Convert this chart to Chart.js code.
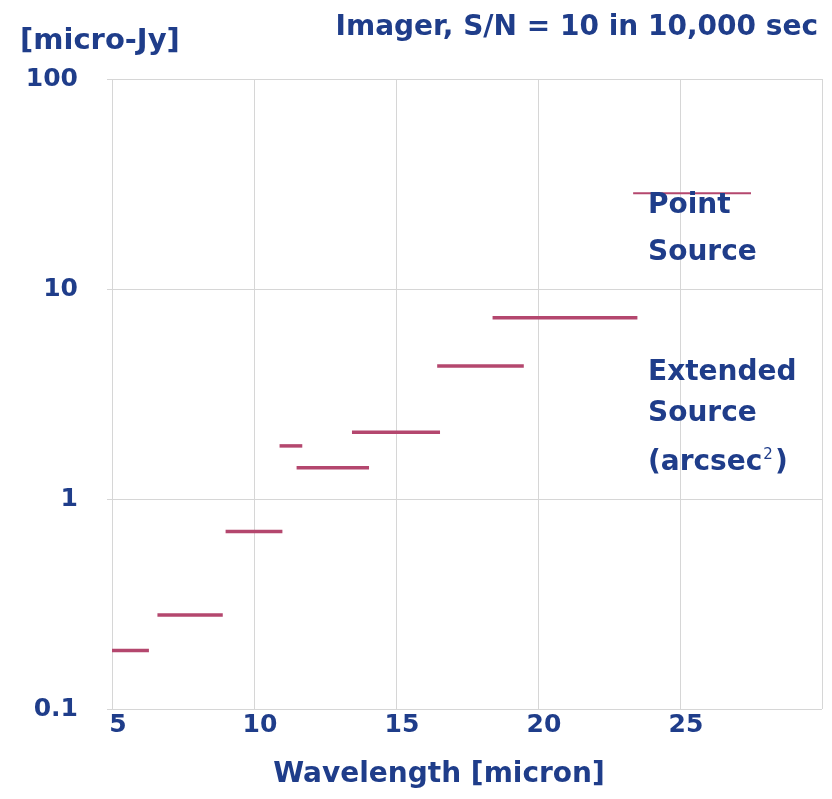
<!DOCTYPE html>
<html>
<head>
<meta charset="utf-8">
<title>Imager sensitivity</title>
<script src="https://cdn.jsdelivr.net/npm/chart.js@4.4.1/dist/chart.umd.min.js"></script>
<style>
  html, body { margin: 0; padding: 0; background: #fff; }
  #wrap { position: relative; width: 832px; height: 799px; }
</style>
</head>
<body>
<div id="wrap"><canvas id="sens"></canvas></div>
<script>
// filter bands: wavelength start / end (micron) and sensitivity (micro-Jy)
const bandStart = [5.0, 6.6, 9.0, 10.9, 11.5, 13.45, 16.45, 18.4];
const bandEnd   = [6.3, 8.9, 11.0, 11.7, 14.05, 16.55, 19.5, 23.5];
const bandFlux  = [0.19, 0.28, 0.70, 1.79, 1.41, 2.08, 4.3, 7.3];

// point source marker line in the legend corner
const pointStart = 23.35;
const pointEnd = 27.5;
const pointFlux = 28.6;

const yTicks = [0.1, 1, 10, 100];
const xTicks = [5, 10, 15, 20, 25];

const navy = '#1f3d8a';
const lineColor = '#b4476e';
const gridColor = '#d6d6d6';
const fontFamily = '"DejaVu Sans", "Liberation Sans", Arial, sans-serif';

const datasets = bandFlux.map((f, i) => ({
  data: [{ x: bandStart[i], y: f }, { x: bandEnd[i], y: f }],
  borderColor: lineColor,
  borderWidth: 3.5,
  pointRadius: 0,
  showLine: true
}));
datasets.push({
  data: [{ x: pointStart, y: pointFlux }, { x: pointEnd, y: pointFlux }],
  borderColor: lineColor,
  borderWidth: 2,
  pointRadius: 0,
  showLine: true
});

// free text: headers, x axis title and labels in the right corner
const textPlugin = {
  id: 'texts',
  afterDraw(chart) {
    const ctx = chart.ctx;
    ctx.save();
    ctx.fillStyle = navy;
    ctx.textBaseline = 'middle';
    ctx.font = 'bold 29px ' + fontFamily;
    ctx.textAlign = 'left';
    ctx.fillText('[micro-Jy]', 20, 41);
    ctx.font = 'bold 28px ' + fontFamily;
    ctx.textAlign = 'right';
    ctx.fillText('Imager, S/N = 10 in 10,000 sec', 818, 28);

    ctx.textAlign = 'center';
    ctx.fillText('Wavelength [micron]', 439, 775);

    ctx.textAlign = 'left';
    const lx = 648;
    ctx.fillText('Point', lx, 206);
    ctx.fillText('Source', lx, 253);
    ctx.fillText('Extended', lx, 373);
    ctx.fillText('Source', lx, 414);
    const w = ctx.measureText('(arcsec').width;
    ctx.fillText('(arcsec', lx, 463);
    ctx.font = '15px ' + fontFamily;
    ctx.fillText('2', lx + w + 1, 455);
    const w2 = ctx.measureText('2').width;
    ctx.font = 'bold 28px ' + fontFamily;
    ctx.fillText(')', lx + w + w2 + 3, 463);
    ctx.restore();
  }
};

new Chart(document.getElementById('sens'), {
  type: 'scatter',
  data: { datasets: datasets },
  plugins: [textPlugin],
  options: {
    responsive: true,
    maintainAspectRatio: false,
    animation: false,
    layout: { padding: { top: 79, right: 10, left: 0, bottom: 0 } },
    plugins: { legend: { display: false }, tooltip: { enabled: false } },
    scales: {
      x: {
        type: 'linear',
        min: 5,
        max: 30,
        afterBuildTicks: axis => { axis.ticks = xTicks.concat([30]).map(v => ({ value: v })); },
        afterFit: axis => { axis.height = 90; },
        grid: { color: gridColor, lineWidth: 1, tickLength: 0, drawTicks: false },
        border: { display: false },
        ticks: {
          color: navy,
          font: { family: fontFamily, size: 25, weight: 'bold' },
          padding: 1,
          labelOffset: 6,
          callback: v => (v === 30 ? '' : v)
        }
      },
      y: {
        type: 'logarithmic',
        min: 0.1,
        max: 100,
        afterBuildTicks: axis => { axis.ticks = yTicks.map(v => ({ value: v })); },
        afterFit: axis => { axis.width = 112; },
        grid: { color: gridColor, lineWidth: 1, tickLength: 5 },
        border: { display: false },
        ticks: {
          color: navy,
          crossAlign: 'near',
          font: { family: fontFamily, size: 25, weight: 'bold' },
          padding: 29,
          callback: v => String(v)
        }
      }
    }
  }
});
</script>
</body>
</html>
